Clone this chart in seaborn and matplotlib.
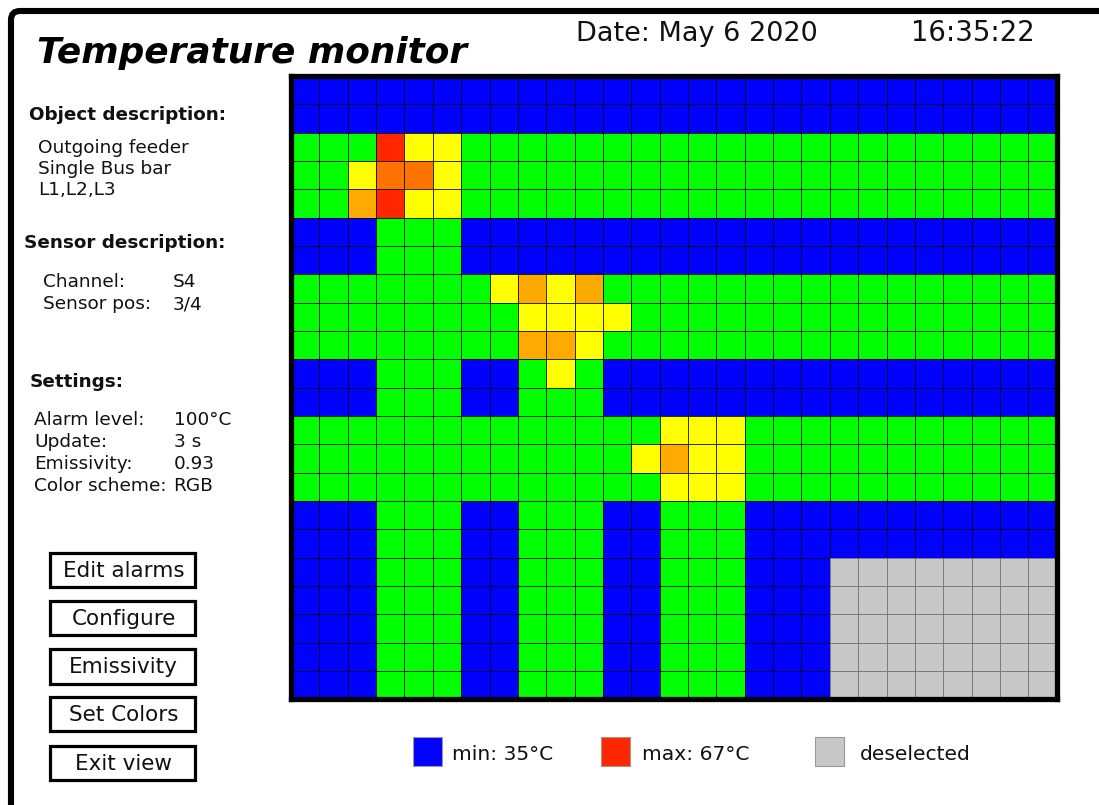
import numpy as np
import pandas as pd
import matplotlib
matplotlib.use("Agg")
import matplotlib.pyplot as plt
import seaborn as sns
from matplotlib.colors import ListedColormap, BoundaryNorm
from matplotlib.patches import Rectangle, FancyBboxPatch
from matplotlib.transforms import IdentityTransform

sns.set_theme(style="white")
plt.rcParams['font.family'] = ['DejaVu Sans']

W, H = 1099, 805

# ---------------- data (temperatures in °C) ----------------
B, G, Y, A, O, R = 35, 45, 55, 60, 63, 67   # blue, green, yellow, amber, orange, red levels
D = np.nan                                   # deselected sensor cell

temperature_rows = [
    [B, B, B, B, B, B, B, B, B,  B, B, B, B, B, B, B, B, B,  B, B, B, B, B, B, B, B, B],
    [B, B, B, B, B, B, B, B, B,  B, B, B, B, B, B, B, B, B,  B, B, B, B, B, B, B, B, B],
    [G, G, G, R, Y, Y, G, G, G,  G, G, G, G, G, G, G, G, G,  G, G, G, G, G, G, G, G, G],
    [G, G, Y, O, O, Y, G, G, G,  G, G, G, G, G, G, G, G, G,  G, G, G, G, G, G, G, G, G],
    [G, G, A, R, Y, Y, G, G, G,  G, G, G, G, G, G, G, G, G,  G, G, G, G, G, G, G, G, G],
    [B, B, B, G, G, G, B, B, B,  B, B, B, B, B, B, B, B, B,  B, B, B, B, B, B, B, B, B],
    [B, B, B, G, G, G, B, B, B,  B, B, B, B, B, B, B, B, B,  B, B, B, B, B, B, B, B, B],
    [G, G, G, G, G, G, G, Y, A,  Y, A, G, G, G, G, G, G, G,  G, G, G, G, G, G, G, G, G],
    [G, G, G, G, G, G, G, G, Y,  Y, Y, Y, G, G, G, G, G, G,  G, G, G, G, G, G, G, G, G],
    [G, G, G, G, G, G, G, G, A,  A, Y, G, G, G, G, G, G, G,  G, G, G, G, G, G, G, G, G],
    [B, B, B, G, G, G, B, B, G,  Y, G, B, B, B, B, B, B, B,  B, B, B, B, B, B, B, B, B],
    [B, B, B, G, G, G, B, B, G,  G, G, B, B, B, B, B, B, B,  B, B, B, B, B, B, B, B, B],
    [G, G, G, G, G, G, G, G, G,  G, G, G, G, Y, Y, Y, G, G,  G, G, G, G, G, G, G, G, G],
    [G, G, G, G, G, G, G, G, G,  G, G, G, Y, A, Y, Y, G, G,  G, G, G, G, G, G, G, G, G],
    [G, G, G, G, G, G, G, G, G,  G, G, G, G, Y, Y, Y, G, G,  G, G, G, G, G, G, G, G, G],
    [B, B, B, G, G, G, B, B, G,  G, G, B, B, G, G, G, B, B,  B, B, B, B, B, B, B, B, B],
    [B, B, B, G, G, G, B, B, G,  G, G, B, B, G, G, G, B, B,  B, B, B, B, B, B, B, B, B],
    [B, B, B, G, G, G, B, B, G,  G, G, B, B, G, G, G, B, B,  B, D, D, D, D, D, D, D, D],
    [B, B, B, G, G, G, B, B, G,  G, G, B, B, G, G, G, B, B,  B, D, D, D, D, D, D, D, D],
    [B, B, B, G, G, G, B, B, G,  G, G, B, B, G, G, G, B, B,  B, D, D, D, D, D, D, D, D],
    [B, B, B, G, G, G, B, B, G,  G, G, B, B, G, G, G, B, B,  B, D, D, D, D, D, D, D, D],
    [B, B, B, G, G, G, B, B, G,  G, G, B, B, G, G, G, B, B,  B, D, D, D, D, D, D, D, D],
]

level_bounds = [30, 40, 50, 58, 62, 65, 70]
level_colors = ['#0000ff', '#00ff00', '#ffff00', '#ffaa00', '#ff7300', '#ff2600']
deselected_color = '#c8c8c8'

title_text = "Temperature monitor"
date_text = "Date: May 6 2020"
time_text = "16:35:22"

object_lines = ["Outgoing feeder", "Single Bus bar", "L1,L2,L3"]
sensor_labels = ["Channel:", "Sensor pos:"]
sensor_values = ["S4", "3/4"]
settings_labels = ["Alarm level:", "Update:", "Emissivity:", "Color scheme:"]
settings_values = ["100°C", "3 s", "0.93", "RGB"]
button_labels = ["Edit alarms", "Configure", "Emissivity", "Set Colors", "Exit view"]
legend_labels = ["min: 35°C", "max: 67°C", "deselected"]

# ---------------- figure ----------------
fig = plt.figure(figsize=(W / 100, H / 100), dpi=100)
fig.patch.set_facecolor('white')


def fx(x):
    return x / W


def fy(y):
    return 1 - y / H


def ftext(x, y, s, **kw):
    kw.setdefault('va', 'baseline')
    kw.setdefault('ha', 'left')
    kw.setdefault('color', '#111111')
    fig.text(fx(x), fy(y), s, **kw)


# outer rounded frame (continues past right/bottom edge)
frame = FancyBboxPatch((11, -60), 1200, H - 11 + 60,
                       boxstyle="round,pad=0,rounding_size=9",
                       transform=IdentityTransform(), facecolor='none',
                       edgecolor='black', linewidth=4.4)
fig.add_artist(frame)

# heatmap area
gx0, gx1, gy0, gy1 = 291, 1056.7, 76, 699.3
ax = fig.add_axes([fx(gx0), fy(gy1), (gx1 - gx0) / W, (gy1 - gy0) / H])

temps = pd.DataFrame(np.array(temperature_rows, dtype=float))
cmap = ListedColormap(level_colors)
norm = BoundaryNorm(level_bounds, cmap.N)

sns.heatmap(temps, cmap=cmap, norm=norm, cbar=False, linewidths=0.72,
            linecolor=(0, 0, 0, 0.5), xticklabels=False, yticklabels=False, ax=ax)
desel = temps.isna().astype(float).where(temps.isna())
sns.heatmap(desel, cmap=ListedColormap([deselected_color]), cbar=False,
            linewidths=0.72, linecolor=(0, 0, 0, 0.38),
            xticklabels=False, yticklabels=False, ax=ax)
for sp in ax.spines.values():
    sp.set_visible(True)
    sp.set_linewidth(3.8)
    sp.set_color('black')
ax.set_xlabel('')
ax.set_ylabel('')

# ---------------- header ----------------
ftext(37, 63, title_text, fontsize=25.8, fontweight='bold', style='italic', color='black')
ftext(576, 41, date_text, fontsize=19.5)
ftext(911, 41, time_text, fontsize=19.8)

# ---------------- left panel ----------------
ftext(28.5, 120, "Object description:", fontsize=13.2, fontweight='bold')
for i, line in enumerate(object_lines):
    ftext(38.5, 152.7 + i * 21.2, line, fontsize=13.3)

ftext(24, 248.3, "Sensor description:", fontsize=13.2, fontweight='bold')
for i, (lab, val) in enumerate(zip(sensor_labels, sensor_values)):
    ftext(43, 287.3 + i * 22, lab, fontsize=13.3)
    ftext(173, 287.3 + i * 22, val, fontsize=13.3)

ftext(30, 386.7, "Settings:", fontsize=13.2, fontweight='bold')
for i, (lab, val) in enumerate(zip(settings_labels, settings_values)):
    ftext(34, 425 + i * 21.9, lab, fontsize=13.3)
    ftext(173.5, 425 + i * 21.9, val, fontsize=13.3)

# buttons
btn_x0, btn_x1 = 50, 195.5
btn_tops = [553, 601, 649.3, 697, 745.7]
btn_h = 34.3
for lab, top in zip(button_labels, btn_tops):
    rect = Rectangle((fx(btn_x0), fy(top + btn_h)), (btn_x1 - btn_x0) / W, btn_h / H,
                     transform=fig.transFigure, facecolor='white',
                     edgecolor='black', linewidth=2.3)
    fig.add_artist(rect)
    fig.text(fx((btn_x0 + btn_x1) / 2 + 1), fy(top + btn_h / 2 + 1), lab,
             fontsize=15.5, ha='center', va='center', color='#111111')

# ---------------- legend ----------------
legend_colors = [level_colors[0], level_colors[-1], deselected_color]
legend_box_x = [412.7, 601, 815]
legend_txt_x = [452, 641.5, 860]
for col, lab, bx, tx in zip(legend_colors, legend_labels, legend_box_x, legend_txt_x):
    sq = Rectangle((fx(bx), fy(766)), 29 / W, 29 / H, transform=fig.transFigure,
                   facecolor=col, edgecolor='#999999', linewidth=0.8)
    fig.add_artist(sq)
    ftext(tx, 760, lab, fontsize=14.6)

fig.savefig("out.png", dpi=100)
